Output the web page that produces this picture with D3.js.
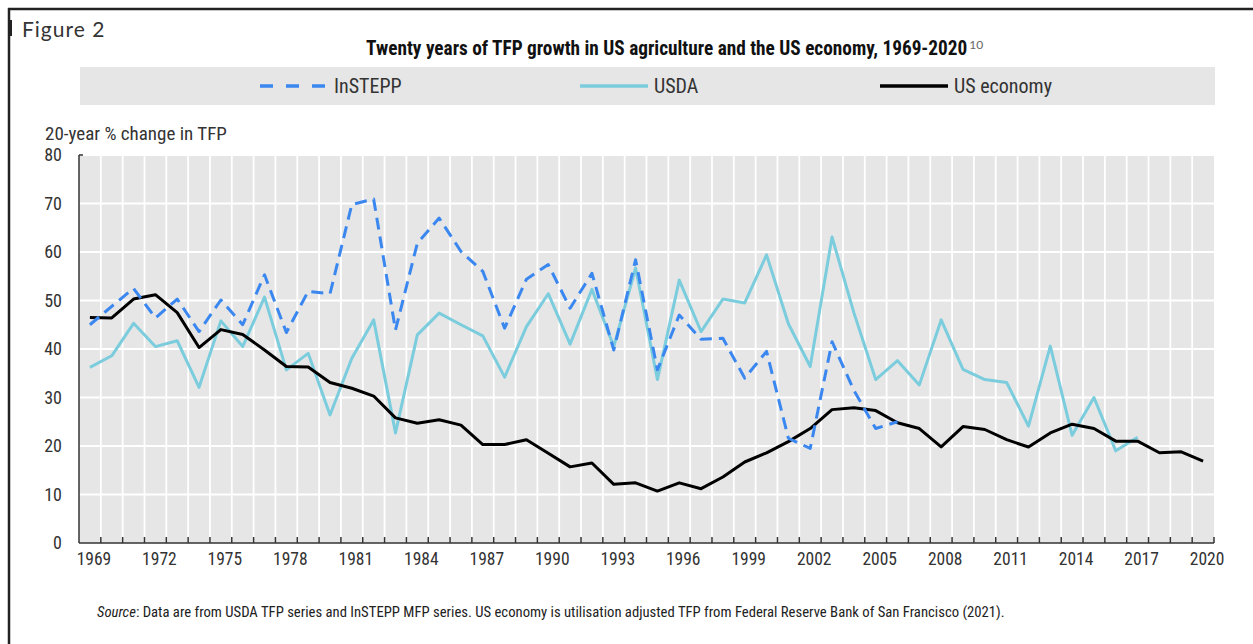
<!DOCTYPE html>
<html>
<head>
<meta charset="utf-8">
<script src="https://cdn.jsdelivr.net/npm/d3@7"></script>
<style>
  body { margin: 0; background: #fff; }
  svg { display: block; }
  .narrow { font-family: "Liberation Sans Narrow", "Roboto Condensed", "DejaVu Sans Condensed", sans-serif; }
</style>
</head>
<body>
<div id="chart"></div>
<script>
// years on the category axis
const years = d3.range(1969, 2021);

// tick labels shown every third year
const yearLabels = [1969, 1972, 1975, 1978, 1981, 1984, 1987, 1990, 1993, 1996, 1999, 2002, 2005, 2008, 2011, 2014, 2017, 2020];
const yTicks = [0, 10, 20, 30, 40, 50, 60, 70, 80];

// InSTEPP series, 1969-2006
const instepp = [45, 48.8, 52.5, 46.4, 50.3, 43.6, 50.1, 45, 55.3, 43.4,
  51.9, 51.4, 69.8, 70.9, 43.9, 61.8, 67, 60.1, 56, 44.3,
  54.4, 57.4, 48.4, 55.6, 39.8, 58.4, 35.7, 47, 42, 42.2,
  34, 39.5, 21.6, 19.5, 41.5, 31.5, 23.6, 25];

// USDA series, 1969-2017
const usda = [36.2, 38.6, 45.3, 40.5, 41.7, 32.1, 45.8, 40.5, 50.7, 35.7,
  39.1, 26.4, 38.1, 46, 22.7, 42.9, 47.4, 45, 42.7, 34.2,
  44.6, 51.4, 41.0, 52.3, 40.5, 56.7, 33.7, 54.2, 43.6, 50.3,
  49.5, 59.4, 45.2, 36.4, 63.1, 47.5, 33.7, 37.6, 32.6, 46,
  35.8, 33.7, 33.1, 24.1, 40.6, 22.2, 30, 19, 21.8];

// US economy series, 1969-2020
const usEconomy = [46.5, 46.4, 50.3, 51.2, 47.5, 40.3, 44, 43, 39.8, 36.4,
  36.3, 33.1, 31.9, 30.3, 25.8, 24.7, 25.4, 24.3, 20.3, 20.3,
  21.3, 18.5, 15.7, 16.5, 12.1, 12.4, 10.7, 12.4, 11.2, 13.6,
  16.7, 18.6, 20.9, 23.6, 27.5, 27.9, 27.3, 24.8, 23.6, 19.8,
  24, 23.4, 21.3, 19.8, 22.7, 24.5, 23.6, 21, 21, 18.6,
  18.8, 16.9];

const width = 1253;
const height = 644;

const svg = d3.select('#chart')
  .append('svg')
  .attr('width', width)
  .attr('height', height);

// page frame
svg.append('line').attr('x1', 8).attr('x2', width).attr('y1', 9).attr('y2', 9)
  .attr('stroke', '#222').attr('stroke-width', 2.5);
svg.append('line').attr('x1', 9).attr('x2', 9).attr('y1', 8).attr('y2', height)
  .attr('stroke', '#222').attr('stroke-width', 2.5);
svg.append('rect').attr('x', 9).attr('y', 20).attr('width', 3).attr('height', 16).attr('fill', '#222');

svg.append('text')
  .attr('x', 22).attr('y', 37)
  .style('font-family', 'Lato, "Open Sans", sans-serif')
  .style('font-size', '21px')
  .style('letter-spacing', '1px')
  .style('fill', '#333')
  .text('Figure 2');

// title
const title = svg.append('text')
  .attr('class', 'narrow')
  .attr('x', 366).attr('y', 55)
  .style('font-size', '19.3px')
  .style('font-weight', 'bold')
  .style('fill', '#111');
title.append('tspan').text('Twenty years of TFP growth in US agriculture and the US economy, 1969-2020');
title.append('tspan')
  .attr('dx', 2).attr('dy', -6)
  .style('font-family', 'Lato, "Open Sans", sans-serif')
  .style('font-weight', 'normal')
  .style('font-size', '12px')
  .style('fill', '#666')
  .text('10');

const margin = { top: 155, right: 39, bottom: 101, left: 79 };
const usableArea = {
  top: margin.top,
  right: width - margin.right,
  bottom: height - margin.bottom,
  left: margin.left,
};

const xScale = d3.scaleBand().domain(years).range([usableArea.left, usableArea.right]).padding(0);
const yScale = d3.scaleLinear().domain([0, 80]).range([usableArea.bottom, usableArea.top]);
const xCenter = (y) => xScale(y) + xScale.bandwidth() / 2;

// legend band
const legend = svg.append('g');
legend.append('rect')
  .attr('x', 80).attr('y', 67).attr('width', 1135).attr('height', 38)
  .attr('fill', '#e6e6e6');

const legendItems = [
  { name: 'InSTEPP', x: 260, color: '#3b87f0', dash: '13,13' },
  { name: 'USDA', x: 580, color: '#7bcddd', dash: null },
  { name: 'US economy', x: 880, color: '#000', dash: null },
];
legendItems.forEach((d) => {
  legend.append('line')
    .attr('x1', d.x).attr('x2', d.x + 68).attr('y1', 86).attr('y2', 86)
    .attr('stroke', d.color).attr('stroke-width', 3.5)
    .attr('stroke-dasharray', d.dash);
  legend.append('text')
    .attr('class', 'narrow')
    .attr('x', d.x + 74).attr('y', 93)
    .style('font-size', '20px')
    .style('fill', '#333')
    .text(d.name);
});

// axis title
svg.append('text')
  .attr('class', 'narrow')
  .attr('x', 45).attr('y', 140)
  .style('font-size', '19px')
  .style('fill', '#333')
  .text('20-year % change in TFP');

// plot background
svg.append('rect')
  .attr('x', usableArea.left).attr('y', usableArea.top)
  .attr('width', usableArea.right - usableArea.left)
  .attr('height', usableArea.bottom - usableArea.top)
  .attr('fill', '#e6e6e6');

// gridlines
const boundaries = years.slice(1).map((y) => xScale(y));
svg.append('g')
  .selectAll('line')
  .data(boundaries)
  .join('line')
  .attr('x1', (d) => d).attr('x2', (d) => d)
  .attr('y1', usableArea.top).attr('y2', usableArea.bottom)
  .attr('stroke', '#fff').attr('stroke-width', 1.8);

svg.append('g')
  .selectAll('line')
  .data(yTicks.slice(1))
  .join('line')
  .attr('x1', usableArea.left).attr('x2', usableArea.right)
  .attr('y1', (d) => yScale(d)).attr('y2', (d) => yScale(d))
  .attr('stroke', '#fff').attr('stroke-width', 2);

// axes
const axisColor = '#333';
svg.append('line')
  .attr('x1', usableArea.left).attr('x2', usableArea.left)
  .attr('y1', usableArea.top).attr('y2', usableArea.bottom)
  .attr('stroke', axisColor).attr('stroke-width', 1.5);
svg.append('line')
  .attr('x1', usableArea.left).attr('x2', usableArea.left + 4)
  .attr('y1', usableArea.top).attr('y2', usableArea.top)
  .attr('stroke', axisColor).attr('stroke-width', 1.5);
svg.append('line')
  .attr('x1', usableArea.left).attr('x2', usableArea.right)
  .attr('y1', usableArea.bottom).attr('y2', usableArea.bottom)
  .attr('stroke', axisColor).attr('stroke-width', 1.5);

svg.append('g')
  .selectAll('line')
  .data(boundaries.concat([usableArea.right]))
  .join('line')
  .attr('x1', (d) => d).attr('x2', (d) => d)
  .attr('y1', usableArea.bottom).attr('y2', usableArea.bottom - 6)
  .attr('stroke', axisColor).attr('stroke-width', 1.5);

svg.append('g')
  .selectAll('text')
  .data(yTicks)
  .join('text')
  .attr('class', 'narrow')
  .attr('x', 62)
  .attr('y', (d) => yScale(d) + 6)
  .attr('text-anchor', 'end')
  .style('font-size', '18px')
  .style('fill', '#333')
  .text((d) => d);

svg.append('g')
  .selectAll('text')
  .data(yearLabels)
  .join('text')
  .attr('class', 'narrow')
  .attr('x', (d) => xCenter(d) + 4)
  .attr('y', 565)
  .attr('text-anchor', 'middle')
  .style('font-size', '17.5px')
  .style('fill', '#333')
  .text((d) => d);

// series
const line = d3.line()
  .defined((d) => d.value != null)
  .x((d) => xCenter(d.year))
  .y((d) => yScale(d.value));

const toPoints = (values) => values.map((v, i) => ({ year: years[i], value: v }));

const series = [
  { values: usda, color: '#7bcddd', dash: null },
  { values: usEconomy, color: '#000', dash: null },
  { values: instepp, color: '#3b87f0', dash: '12,7' },
];

svg.append('g')
  .selectAll('path')
  .data(series)
  .join('path')
  .attr('d', (d) => line(toPoints(d.values)))
  .attr('fill', 'none')
  .attr('stroke', (d) => d.color)
  .attr('stroke-width', 3)
  .attr('stroke-linejoin', 'round')
  .attr('stroke-dasharray', (d) => d.dash);

// source note
const source = svg.append('text')
  .attr('class', 'narrow')
  .attr('x', 97).attr('y', 617)
  .style('font-size', '14.7px')
  .style('fill', '#222');
source.append('tspan').style('font-style', 'italic').text('Source');
source.append('tspan').text(': Data are from USDA TFP series and InSTEPP MFP series. US economy is utilisation adjusted TFP from Federal Reserve Bank of San Francisco (2021).');
</script>
</body>
</html>
